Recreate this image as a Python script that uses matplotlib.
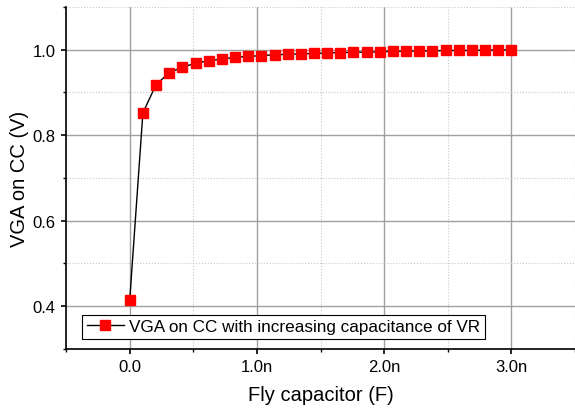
import numpy as np
import matplotlib
matplotlib.use('Agg')
import matplotlib.pyplot as plt
from matplotlib.ticker import MultipleLocator, FixedLocator, FuncFormatter

plt.rcParams['font.family'] = ['Liberation Sans', 'DejaVu Sans']

# Fly capacitor values (F) and measured VGA on CC (V)
cap_values = np.linspace(0, 3e-9, 30)
vga_values = [0.415, 0.852, 0.918, 0.946, 0.959, 0.968, 0.974, 0.978, 0.982, 0.984,
              0.986, 0.988, 0.989, 0.990, 0.991, 0.992, 0.993, 0.994, 0.994, 0.995,
              0.996, 0.996, 0.997, 0.997, 0.998, 0.998, 0.998, 0.999, 0.999, 1.000]
series_label = 'VGA on CC with increasing capacitance of VR'
x_ticks = [0, 1e-9, 2e-9, 3e-9]
y_ticks = [0.4, 0.6, 0.8, 1.0]


def nano_fmt(v, pos):
    if abs(v) < 1e-15:
        return '0.0'
    return f'{v * 1e9:.1f}n'


fig = plt.figure(figsize=(5.75, 4.14), dpi=100)
ax = fig.add_axes([0.115, 0.155, 0.885, 0.826])

ax.plot(cap_values, vga_values, color='black', linewidth=1,
        marker='s', markersize=6.5, markerfacecolor='red', markeredgecolor='red',
        label=series_label)

ax.set_xlim(-0.5e-9, 3.5e-9)
ax.set_ylim(0.3, 1.1)
ax.xaxis.set_major_locator(FixedLocator(x_ticks))
ax.xaxis.set_minor_locator(MultipleLocator(0.5e-9))
ax.xaxis.set_major_formatter(FuncFormatter(nano_fmt))
ax.yaxis.set_major_locator(FixedLocator(y_ticks))
ax.yaxis.set_minor_locator(MultipleLocator(0.1))
ax.yaxis.set_major_formatter(FuncFormatter(lambda v, p: f'{v:.1f}'))

ax.grid(which='major', color='#a0a0a0', linewidth=1, linestyle='-')
ax.grid(which='minor', color='#c8c8c8', linewidth=0.8, linestyle=':')
ax.set_axisbelow(True)

ax.spines['top'].set_visible(False)
ax.spines['right'].set_visible(False)
ax.spines['left'].set_linewidth(1.2)
ax.spines['bottom'].set_linewidth(1.2)
ax.tick_params(which='major', direction='out', length=3.5, width=1.2, labelsize=12, pad=4)
ax.tick_params(which='minor', direction='out', length=2.5, width=1)

ax.set_xlabel('Fly capacitor (F)', fontsize=14.5, labelpad=8)
ax.set_ylabel('VGA on CC (V)', fontsize=14.5, labelpad=3)

leg = ax.legend(loc='lower left', bbox_to_anchor=(0.025, 0.02), fontsize=12.3,
                fancybox=False, framealpha=1, edgecolor='black',
                handlelength=2.2, borderpad=0.25, handletextpad=0.3,
                borderaxespad=0.2)
leg.get_frame().set_linewidth(0.8)

fig.savefig('out.png', dpi=100)
